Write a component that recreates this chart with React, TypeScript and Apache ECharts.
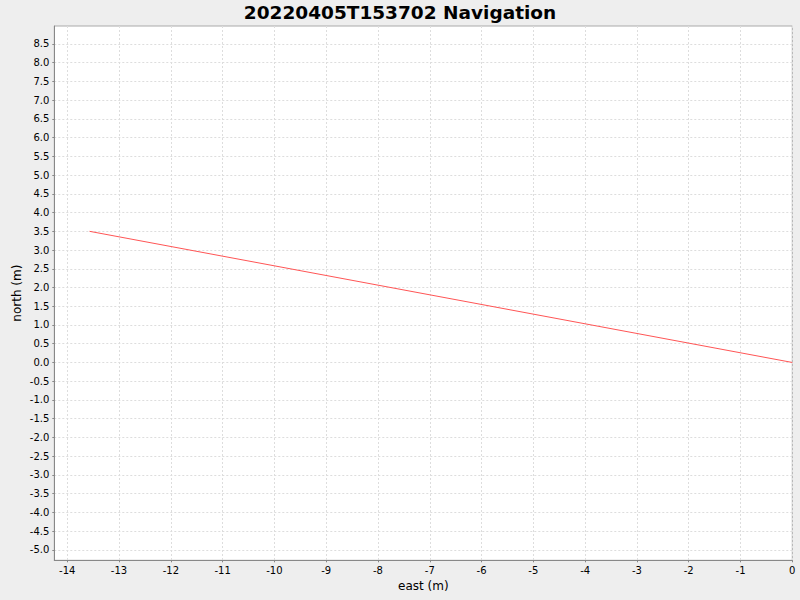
import React, { useEffect, useRef } from "react";
import * as echarts from "echarts";

const eastValues = [-13.57, 0];
const northValues = [3.5, 0];
const xTicks = [-14, -13, -12, -11, -10, -9, -8, -7, -6, -5, -4, -3, -2, -1, 0];
const yTicks = [
  -5, -4.5, -4, -3.5, -3, -2.5, -2, -1.5, -1, -0.5, 0, 0.5, 1, 1.5, 2, 2.5, 3,
  3.5, 4, 4.5, 5, 5.5, 6, 6.5, 7, 7.5, 8, 8.5,
];

const FONT = "DejaVu Sans";

const App: React.FC = () => {
  const chartRef = useRef<HTMLDivElement>(null);

  useEffect(() => {
    if (!chartRef.current) return;
    const chart = echarts.init(chartRef.current, undefined, { renderer: "svg" });

    const option: echarts.EChartsOption = {
      animation: false,
      backgroundColor: "#eeeeee",
      title: {
        text: "20220405T153702 Navigation",
        left: "center",
        top: -2,
        textStyle: { fontFamily: FONT, fontSize: 18.5, fontWeight: "bold", color: "#000" },
      },
      grid: {
        left: 54.3,
        right: 7.7,
        top: 26,
        bottom: 39.7,
        outerBoundsMode: "none",
        show: true,
        backgroundColor: "#ffffff",
        borderColor: "#aaaaaa",
        borderWidth: 1,
      } as any,
      xAxis: {
        type: "value",
        min: -14.25,
        max: 0,
        name: "east (m)",
        nameLocation: "middle",
        nameGap: 19,
        nameTextStyle: { fontFamily: FONT, fontSize: 12, color: "#000" },
        axisLine: { onZero: false, lineStyle: { color: "#888888" } },
        axisTick: { length: 2, customValues: xTicks, lineStyle: { color: "#888888" } },
        axisLabel: {
          customValues: xTicks,
          fontFamily: FONT,
          fontSize: 10,
          color: "#000",
          margin: 5,
          showMinLabel: true,
          showMaxLabel: true,
        },
        splitLine: { show: true, lineStyle: { color: "#dddddd", type: [2, 2] } },
      },
      yAxis: {
        type: "value",
        min: -5.28,
        max: 8.98,
        name: "north (m)",
        nameLocation: "middle",
        nameGap: 31,
        nameMoveOverlap: false,
        nameRotate: 90,
        nameTextStyle: { fontFamily: FONT, fontSize: 12, color: "#000" },
        axisLine: { show: true, onZero: false, lineStyle: { color: "#888888" } },
        axisTick: { show: true, length: 2, customValues: yTicks, lineStyle: { color: "#888888" } },
        axisLabel: {
          customValues: yTicks,
          fontFamily: FONT,
          fontSize: 10,
          color: "#000",
          margin: 5,
          formatter: (v: number) => v.toFixed(1),
        },
        splitLine: { show: true, lineStyle: { color: "#dddddd", type: [2, 2] } },
      } as any,
      series: [
        {
          type: "line",
          data: eastValues.map((e, i) => [e, northValues[i]]),
          showSymbol: false,
          lineStyle: { color: "#ff5555", width: 1 },
        },
      ],
    };

    chart.setOption(option);
    return () => {
      chart.dispose();
    };
  }, []);

  return (
    <div
      ref={chartRef}
      style={{ position: "fixed", left: 0, top: 0, width: 800, height: 600 }}
    />
  );
};

export default App;
